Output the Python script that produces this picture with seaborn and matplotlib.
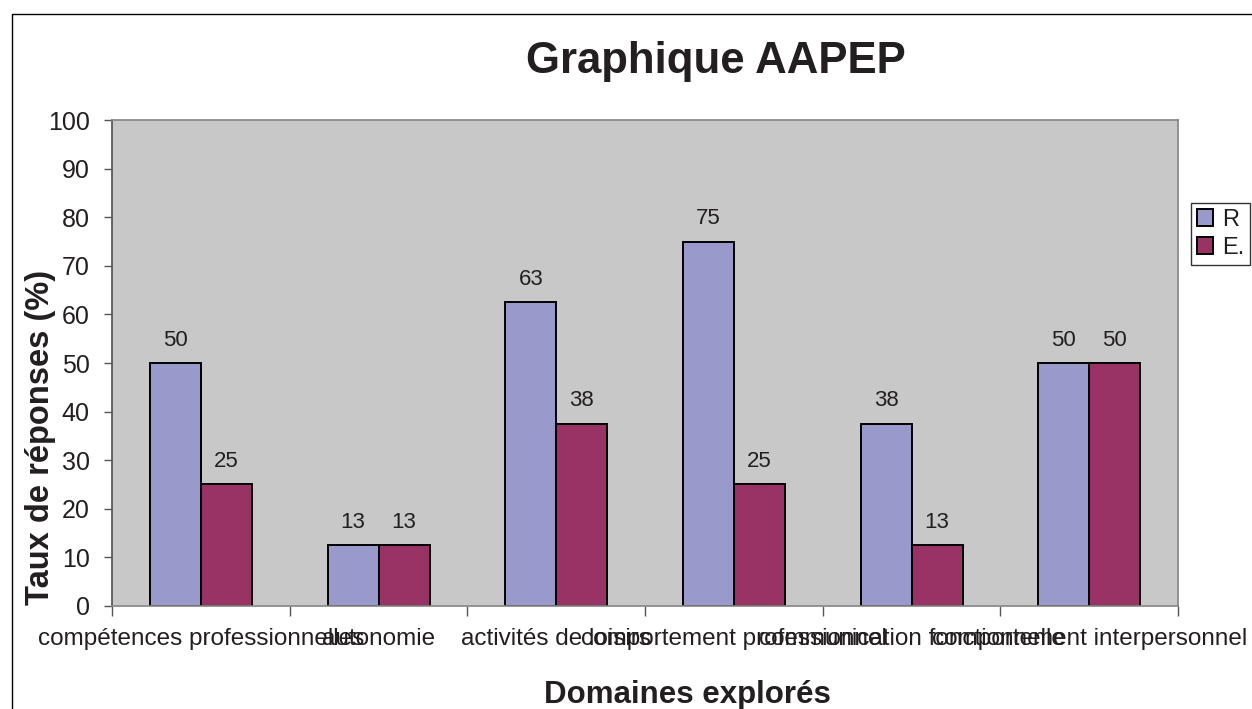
import pandas as pd
import seaborn as sns
import matplotlib.pyplot as plt
from matplotlib.patches import Rectangle

# Data
domaines = ["compétences professionnelles", "autonomie", "activités de loisirs",
            "comportement professionnel", "communication fonctionnelle",
            "comportement interpersonnel"]
serie_r = [50, 12.5, 62.5, 75, 37.5, 50]
serie_e = [25, 12.5, 37.5, 25, 12.5, 50]
series = ["R", "E."]
couleurs = ["#9999cc", "#993366"]

df = pd.DataFrame({
    "domaine": domaines * 2,
    "taux": serie_r + serie_e,
    "serie": [series[0]] * len(domaines) + [series[1]] * len(domaines),
})

sns.set_theme(style="white")
plt.rcParams["font.family"] = ["Liberation Sans", "DejaVu Sans"]
ink = "#231f20"

fig = plt.figure(figsize=(12.52, 7.09), dpi=100)
ax = fig.add_axes([0.0895, 0.1453, 0.8515, 0.6854])
ax.set_facecolor("#c8c8c8")

sns.barplot(data=df, x="domaine", y="taux", hue="serie", palette=couleurs,
            width=0.574, edgecolor="black", linewidth=1.4, ax=ax, saturation=1)

# value labels, rounded as in the original
for cont in ax.containers:
    vals = [p.get_height() for p in cont]
    ax.bar_label(cont, labels=[str(int(v + 0.5)) for v in vals], padding=9,
                 fontsize=16, color=ink)

ax.set_ylim(0, 100)
ax.set_xlim(-0.5, len(domaines) - 0.5)
ax.set_yticks(range(0, 101, 10))
ax.tick_params(axis="y", labelsize=18, labelcolor=ink, length=6, direction="out",
               left=True, width=1, color="#555555", pad=10)
ax.tick_params(axis="x", labelsize=17.5, labelcolor=ink, length=0, pad=16)
ax.set_xticks([i - 0.5 for i in range(len(domaines) + 1)], minor=True)
ax.tick_params(axis="x", which="minor", length=7, bottom=True, direction="out", color="#555555")

for s in ["top", "right", "bottom"]:
    ax.spines[s].set_color("#888888")
ax.spines["left"].set_color("#555555")

ax.set_xlabel("")
ax.set_ylabel("")
fig.text(0.549, 1 - 695 / 709, "Domaines explorés", fontsize=22.5, fontweight="bold",
         color=ink, ha="center", va="center")
fig.text(41 / 1252, 1 - 437 / 709, "Taux de réponses (%)", fontsize=23.5,
         fontweight="bold", color=ink, ha="center", va="center", rotation=90)
fig.text(716 / 1252, 1 - 73 / 709, "Graphique AAPEP", fontsize=31.5, fontweight="bold",
         color=ink, ha="center", va="baseline")

leg = ax.legend(title=None, loc="upper left", bbox_to_anchor=(1191 / 1252, 1 - 203 / 709),
                bbox_transform=fig.transFigure, frameon=True, fancybox=False,
                fontsize=17, handlelength=0.7, handleheight=0.7, handletextpad=0.35,
                borderpad=0.25, labelspacing=0.25, borderaxespad=0)
leg.get_frame().set_edgecolor("black")
leg.get_frame().set_linewidth(1)
for t in leg.get_texts():
    t.set_color(ink)

# chart area border (partly clipped as in the original)
fig.patches.append(Rectangle((12 / 1252, -0.1), 1.2, 1.1 - 14 / 709, transform=fig.transFigure,
                             fill=False, edgecolor="black", linewidth=1))

fig.savefig("out.png", dpi=100)
